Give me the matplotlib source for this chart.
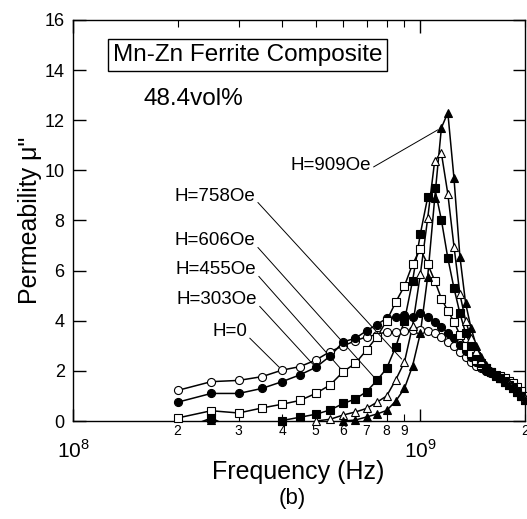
import numpy as np
import matplotlib
matplotlib.use("Agg")
import matplotlib.pyplot as plt
from matplotlib.ticker import FixedLocator

plt.rcParams['font.family'] = ['Liberation Sans', 'DejaVu Sans']
plt.rcParams['mathtext.fontset'] = 'custom'
plt.rcParams['mathtext.rm'] = 'Liberation Sans'

# frequencies (MHz)
freq_mhz = [200, 250, 300, 350, 400, 450, 500, 550, 600, 650, 700, 750, 800,
            850, 900, 950, 1000, 1050, 1100, 1150, 1200, 1250, 1300, 1350,
            1400, 1450, 1500, 1550, 1600, 1650, 1700, 1750, 1800, 1850, 1900,
            1950, 2000]

# mu'' for each applied field
mu_h0 = [1.22, 1.57, 1.62, 1.77, 2.03, 2.17, 2.43, 2.77, 3.0, 3.2, 3.36, 3.45,
         3.56, 3.56, 3.6, 3.63, 3.65, 3.6, 3.5, 3.36, 3.16, 2.99,
         2.77, 2.55, 2.35, 2.2, 2.1, 2.0, 1.9, 1.8, 1.7, 1.6, 1.5, 1.4, 1.25, 1.1, 0.95]
mu_h303 = [0.75, 1.1, 1.1, 1.3, 1.57, 1.84, 2.14, 2.59, 3.16, 3.3, 3.6, 3.85,
           4.1, 4.14, 4.23, 4.15, 4.3, 4.16, 3.96, 3.76, 3.52, 3.3,
           3.05, 2.8, 2.55, 2.35, 2.15, 2.0, 1.9, 1.8, 1.7, 1.6, 1.45, 1.35, 1.2, 1.05, 0.9]
mu_h455 = [0.12, 0.41, 0.32, 0.52, 0.67, 0.82, 1.1, 1.44, 1.97, 2.3, 2.83, 3.36,
           4.0, 4.75, 5.39, 6.26, 6.85, 6.26, 5.6, 4.88, 4.4, 3.96,
           3.43, 3.0, 2.7, 2.45, 2.25, 2.1, 1.95, 1.85, 1.8, 1.7, 1.6, 1.5, 1.35, 1.2, 1.0]
mu_h606 = [-0.4, 0.12, -0.4, -0.3, 0.02, 0.15, 0.27, 0.44, 0.7, 0.88, 1.17, 1.62,
           2.1, 2.97, 4.0, 5.6, 7.46, 8.93, 9.3, 8.02, 6.5, 5.3,
           4.3, 3.5, 3.0, 2.6, 2.3, 2.1, 1.95, 1.8, 1.7, 1.55, 1.45, 1.3, 1.15, 1.0, 0.85]
mu_h758 = [np.nan, np.nan, np.nan, np.nan, np.nan, np.nan, 0.0, 0.07, 0.24, 0.36, 0.5, 0.75,
           1.0, 1.65, 2.35, 3.8, 5.85, 8.09, 10.39, 10.68, 9.06, 6.96,
           5.06, 4.0, 3.3, 2.8, 2.45, 2.2, 2.0, 1.85, 1.7, 1.6, 1.5, 1.35, 1.2, 1.05, 0.9]
mu_h909 = [-0.4, 0.06, -0.4, -0.4, 0.0, -0.2, -0.2, -0.1, 0.0, 0.04, 0.16, 0.28,
           0.42, 0.8, 1.3, 2.2, 3.5, 5.76, 8.89, 11.7, 12.3, 9.68,
           6.56, 4.7, 3.7, 3.0, 2.55, 2.25, 2.0, 1.85, 1.7, 1.55, 1.45, 1.3, 1.15, 1.0, 0.85]

labels = ["H=0", "H=303Oe", "H=455Oe", "H=606Oe", "H=758Oe", "H=909Oe"]
series = [mu_h0, mu_h303, mu_h455, mu_h606, mu_h758, mu_h909]
markers = ['o', 'o', 's', 's', '^', '^']
fills = ['white', 'black', 'white', 'black', 'white', 'black']
# index of the point each label points to
label_pt = [4, 6, 8, 11, 14, 19]

f = np.array(freq_mhz) * 1e6

fig = plt.figure(figsize=(5.27, 5.19), dpi=100)
ax = fig.add_axes([0.1385, 0.1888, 0.8575, 0.7727])

for y, m, fc in zip(series, markers, fills):
    y = np.array(y, dtype=float)
    ax.plot(f, y, '-', color='black', lw=1.1, zorder=2)
    ym = np.where(y < -0.05, np.nan, y)
    ax.plot(f, ym, linestyle='none', marker=m, ms=5.8, mfc=fc, mec='black',
            mew=0.8, clip_on=False, zorder=3)

ax.set_xscale('log')
ax.set_xlim(1e8, 2e9)
ax.set_ylim(0, 16)
ax.set_yticks(np.arange(0, 17, 2))

ax.xaxis.set_major_locator(FixedLocator([1e8, 1e9]))
minors = [k * 1e8 for k in range(2, 10)] + [2e9]
ax.xaxis.set_minor_locator(FixedLocator(minors))
ax.set_xticklabels(['$10^8$', '$10^9$'])
ax.set_xticklabels(['2', '3', '4', '5', '6', '7', '8', '9', '2'], minor=True)

ax.tick_params(which='major', direction='in', length=9, width=1, top=True, right=True)
ax.tick_params(axis='y', which='major', labelsize=13, pad=6)
ax.tick_params(axis='x', which='major', labelsize=15, pad=13)
ax.tick_params(axis='x', which='minor', direction='in', length=5, width=0.8,
               top=True, labelsize=10, pad=2)
for s in ax.spines.values():
    s.set_linewidth(1)

ax.set_xlabel('Frequency (Hz)', fontsize=18)
ax.xaxis.set_label_coords(0.498, -0.098)
ax.set_ylabel('Permeability μ"', fontsize=18, labelpad=2)
fig.text(0.555, 0.04, '(b)', fontsize=16, ha='center', va='center')

ax.text(0.387, 0.913, 'Mn-Zn Ferrite Composite', transform=ax.transAxes,
        fontsize=17.5, ha='center', va='center',
        bbox=dict(boxstyle='square,pad=0.2', fc='white', ec='black', lw=1))
ax.text(0.155, 0.803, '48.4vol%', transform=ax.transAxes, fontsize=17.5,
        ha='left', va='center')

text_pos = [(0.385, 0.222), (0.407, 0.302), (0.405, 0.377), (0.403, 0.449),
            (0.403, 0.561), (0.659, 0.638)]
for lab, y, idx, pos in zip(labels, series, label_pt, text_pos):
    ax.annotate(lab, xy=(f[idx], y[idx]), xytext=pos, textcoords='axes fraction',
                fontsize=13.5, ha='right', va='center',
                arrowprops=dict(arrowstyle='-', lw=0.7, color='black',
                                relpos=(1.0, 0.3), shrinkA=0, shrinkB=3))

fig.savefig('out.png', dpi=100)
